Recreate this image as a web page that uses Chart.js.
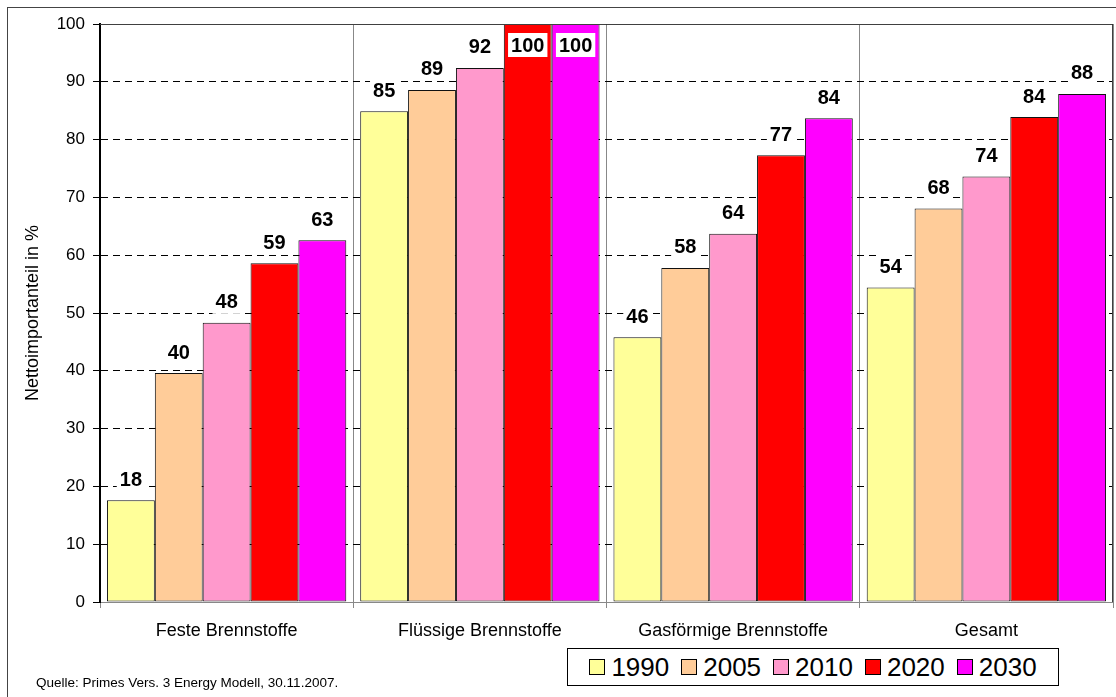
<!DOCTYPE html>
<html>
<head>
<meta charset="utf-8">
<script src="https://cdn.jsdelivr.net/npm/chart.js@4/dist/chart.umd.min.js"></script>
<style>
  html, body { margin: 0; padding: 0; background: #fff; overflow: hidden; }
  #wrap { position: relative; width: 1116px; height: 697px; }
  #frame { position: absolute; left: 7px; top: 7px; width: 1200px; height: 800px; border: 1px solid #444; box-sizing: border-box; pointer-events: none; }
  canvas { position: absolute; left: 0; top: 0; }
  #legend { position: absolute; left: 567px; top: 648px; width: 492px; height: 38px; border: 1px solid #000; box-sizing: border-box; background: #fff;
            display: flex; align-items: center; justify-content: center; font-family: "Liberation Sans", Arial, sans-serif; font-size: 26px; color: #000; }
  .item { display: flex; align-items: center; margin: 0 6px; }
  .sw { width: 14px; height: 14px; border: 1px solid #000; margin-right: 6px; }
  #source { position: absolute; left: 36px; top: 675px; font-family: "Liberation Sans", Arial, sans-serif; font-size: 13.5px; color: #000; white-space: nowrap; }
</style>
</head>
<body>
<div id="wrap">
  <canvas id="c" width="1116" height="697"></canvas>
  <div id="frame"></div>
  <div id="legend"></div>
  <div id="source">Quelle: Primes Vers. 3 Energy Modell, 30.11.2007.</div>
</div>
<script>
const categories = ["Feste Brennstoffe", "Flüssige Brennstoffe", "Gasförmige Brennstoffe", "Gesamt"];
const seriesNames = ["1990", "2005", "2010", "2020", "2030"];
const values1990 = [17.6, 84.9, 45.8, 54.4];
const values2005 = [39.6, 88.6, 57.8, 68.1];
const values2010 = [48.3, 92.4, 63.7, 73.6];
const values2020 = [58.6, 100, 77.3, 83.9];
const values2030 = [62.6, 100, 83.7, 87.9];
const seriesColors = ["#FFFF99", "#FFCC99", "#FF99CC", "#FF0000", "#FF00FF"];
const yTicks = [0, 10, 20, 30, 40, 50, 60, 70, 80, 90, 100];
const yTitle = "Nettoimportanteil in %";

const allValues = [values1990, values2005, values2010, values2020, values2030];
const FONT = '"Liberation Sans", Arial, sans-serif';

// HTML legend
const leg = document.getElementById('legend');
seriesNames.forEach((n, i) => {
  const it = document.createElement('div'); it.className = 'item';
  const sw = document.createElement('div'); sw.className = 'sw'; sw.style.background = seriesColors[i];
  const tx = document.createElement('span'); tx.textContent = n;
  it.appendChild(sw); it.appendChild(tx); leg.appendChild(it);
});

const framePlugin = {
  id: 'frame',
  afterDatasetsDraw(chart) {
    const {ctx, chartArea: a} = chart;
    ctx.save();
    ctx.strokeStyle = '#404040';
    ctx.lineWidth = 1;
    ctx.beginPath();
    ctx.moveTo(a.left, a.top + 0.5); ctx.lineTo(a.right - 0.5, a.top + 0.5); ctx.lineTo(a.right - 0.5, a.bottom);
    ctx.stroke();
    ctx.restore();
  }
};

const labelPlugin = {
  id: 'valLabels',
  afterDraw(chart) {
    const {ctx, chartArea: a} = chart;
    ctx.save();
    ctx.font = 'bold 20px ' + FONT;
    ctx.textAlign = 'center';
    ctx.textBaseline = 'middle';
    chart.data.datasets.forEach((ds, di) => {
      const meta = chart.getDatasetMeta(di);
      meta.data.forEach((el, i) => {
        const txt = String(Math.round(ds.data[i]));
        const cy = Math.max(el.y - 21, a.top + 21);
        const w = ctx.measureText(txt).width + 6;
        ctx.fillStyle = '#fff';
        ctx.fillRect(el.x - w / 2, cy - 12, w, 24);
        ctx.fillStyle = '#000';
        ctx.fillText(txt, el.x, cy + 1);
      });
    });
    ctx.restore();
  }
};

new Chart(document.getElementById('c'), {
  type: 'bar',
  data: {
    labels: categories,
    datasets: seriesNames.map((n, i) => ({
      label: n,
      data: allValues[i],
      backgroundColor: seriesColors[i],
      borderColor: '#111',
      borderWidth: 1,
      borderSkipped: false,
      categoryPercentage: 0.945,
      barPercentage: 1.0
    }))
  },
  options: {
    responsive: false,
    animation: false,
    devicePixelRatio: 1,
    layout: { padding: { left: 0, top: 24, right: 3, bottom: 55 } },
    plugins: { legend: { display: false }, tooltip: { enabled: false } },
    scales: {
      x: {
        offset: true,
        grid: { offset: true, color: '#888', lineWidth: 1, tickLength: 6, drawTicks: true },
        border: { display: true, color: '#888', width: 1 },
        ticks: { color: '#000', font: { family: FONT, size: 18 }, padding: 12, maxRotation: 0 },
        afterFit(s) { s.height = 40; }
      },
      y: {
        min: 0, max: 100,
        afterBuildTicks(s) { s.ticks = yTicks.map(v => ({ value: v })); },
        grid: { color: '#000', lineWidth: 1, tickLength: 7, tickBorderDash: [], tickColor: '#000' },
        border: { display: true, color: '#000', width: 2, dash: [7, 5] },
        ticks: { color: '#000', font: { family: FONT, size: 17 }, padding: 8 },
        title: { display: true, text: yTitle, color: '#000', font: { family: FONT, size: 18 }, padding: { top: 22, bottom: 0 } },
        afterFit(s) { s.width = 100; }
      }
    }
  },
  plugins: [framePlugin, labelPlugin]
});
</script>
</body>
</html>
